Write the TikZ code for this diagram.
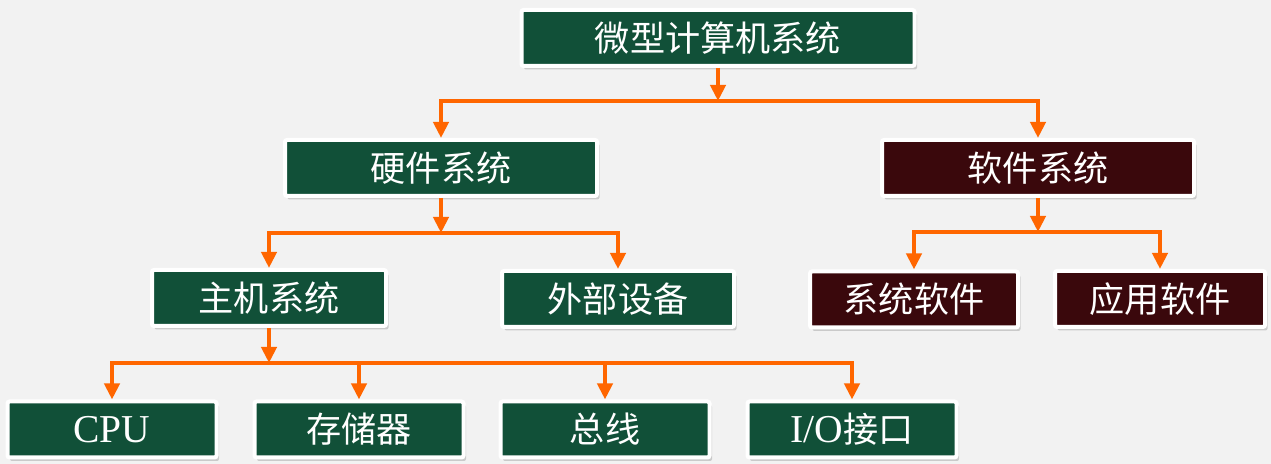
\documentclass[tikz,border=0pt]{standalone}
\usepackage{fontspec}
\setmainfont{Liberation Serif}
\newfontfamily\cjk{Noto Sans CJK SC}
\usetikzlibrary{arrows.meta}
\usetikzlibrary{shadows}
\usetikzlibrary{calc}
\definecolor{boxgreen}{HTML}{115038}
\definecolor{boxred}{HTML}{3A080C}
\definecolor{linkorange}{HTML}{FF6600}
\definecolor{bggray}{HTML}{F2F2F2}

\begin{document}
\begin{tikzpicture}
        % ================= 样式定义 =================
        \tikzset{
            % 方框样式
            sys_box/.style={rectangle, draw=white, line width=0.08cm, rounded corners=0.04cm, minimum height=1.12cm, inner sep=0pt, text=white, font=\fontsize{20}{24}\selectfont, drop shadow={shadow xshift=0.05cm, shadow yshift=-0.07cm, opacity=0.35}},
            % 硬件部分 (绿色)
            hw_box/.style={sys_box, fill=boxgreen},
            % 软件部分 (深红色)
            sw_box/.style={sys_box, fill=boxred},
            % 西文字号略大
            latin/.style={font=\fontsize{22.5}{26}\selectfont},
            % 橙色箭头
            link_arrow/.style={line width=0.08cm, linkorange, -{Triangle[length=0.32cm, width=0.3cm]}}
        }

        % 背景
        \fill[bggray] (0,0) rectangle (25.42,-9.28);
        \useasboundingbox (0,0) rectangle (25.42,-9.28);

        % ================= 第一层 / 第二层 =================
        \node[hw_box, minimum width=7.86cm] (sys) at (14.36,-0.76) {\cjk 微型计算机系统};
        \node[hw_box, minimum width=6.24cm] (hw) at (8.82,-3.36) {\cjk 硬件系统};
        \node[sw_box, minimum width=6.24cm] (sw) at (20.76,-3.36) {\cjk 软件系统};

        % ================= 第三层 =================
        \node[hw_box, minimum width=4.68cm] (host) at (5.38,-5.96) {\cjk 主机系统};
        \node[hw_box, minimum width=4.64cm] (ext) at (12.36,-5.98) {\cjk 外部设备};
        \node[sw_box, minimum width=4.16cm] (sys_sw) at (18.28,-5.99) {\cjk 系统软件};
        \node[sw_box, minimum width=4.2cm] (app_sw) at (23.2,-5.98) {\cjk 应用软件};

        % ================= 第四层 (主机组成) =================
        \node[hw_box, latin, minimum width=4.18cm] (cpu) at (2.24,-8.59) {CPU};
        \node[hw_box, minimum width=4.18cm] (mem) at (7.18,-8.59) {\cjk 存储器};
        \node[hw_box, minimum width=4.18cm] (bus) at (12.1,-8.59) {\cjk 总线};
        \node[hw_box, latin, minimum width=4.18cm] (io) at (17.04,-8.59) {I/O{\cjk\fontsize{20}{24}\selectfont 接口}};

        % ================= 连线 =================
        % 分支点
        \coordinate (j_top) at ($(sys.south)+(0,-0.66)$);
        \coordinate (j_hw) at ($(hw.south)+(0,-0.7)$);
        \coordinate (j_sw) at ($(sw.south)+(0,-0.68)$);
        \coordinate (j_host) at ($(host.south)+(0,-0.7)$);

        % 微型计算机系统 -> 硬件 / 软件
        \draw[link_arrow] (sys.south) -- (j_top);
        \draw[link_arrow] (j_top) -| (hw);
        \draw[link_arrow] (j_top) -| (sw);

        % 硬件系统 -> 主机 / 外设
        \draw[link_arrow] (hw.south) -- (j_hw);
        \draw[link_arrow] (j_hw) -| (host);
        \draw[link_arrow] (j_hw) -| (ext);

        % 软件系统 -> 系统软件 / 应用软件
        \draw[link_arrow] (sw.south) -- (j_sw);
        \draw[link_arrow] (j_sw) -| (sys_sw);
        \draw[link_arrow] (j_sw) -| (app_sw);

        % 主机系统 -> CPU, 存储器, 总线, I/O接口
        \draw[link_arrow] (host.south) -- (j_host);
        \draw[link_arrow] (j_host) -| (cpu);
        \draw[link_arrow] (j_host) -| (mem);
        \draw[link_arrow] (j_host) -| (bus);
        \draw[link_arrow] (j_host) -| (io);

    \end{tikzpicture}
\end{document}
